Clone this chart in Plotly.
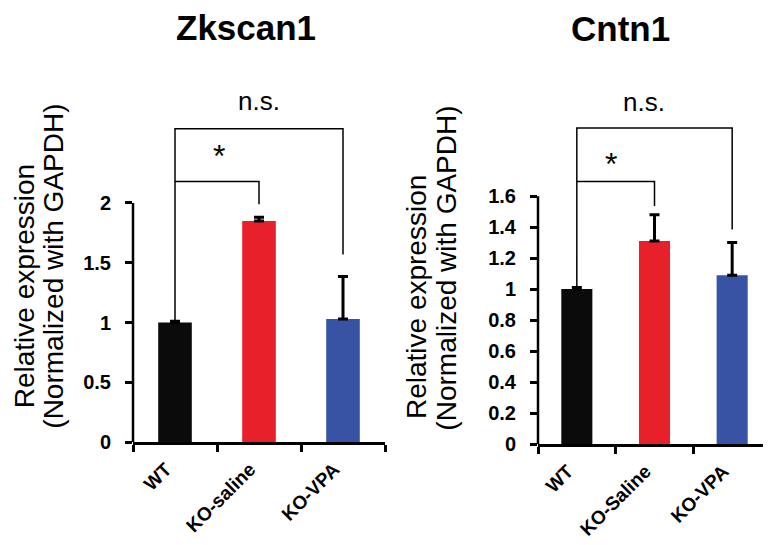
import plotly.graph_objects as go

categories_left = ["WT", "KO-saline", "KO-VPA"]
values_left = [1.0, 1.85, 1.03]
errors_left = [0.01, 0.03, 0.355]

categories_right = ["WT", "KO-Saline", "KO-VPA"]
values_right = [1.0, 1.31, 1.09]
errors_right = [0.01, 0.17, 0.21]

colors = ["#0b0b0b", "#e8202a", "#3953a4"]
ytick_left = [0, 0.5, 1, 1.5, 2]
ytick_right = [0, 0.2, 0.4, 0.6, 0.8, 1, 1.2, 1.4, 1.6]

# significance brackets (data coords)
brk_left = dict(outer=2.62, outer_drop=1.57, inner=2.18, inner_drop=1.99, star=(0.52, 2.39), ns=(1.0, 2.85))
brk_right = dict(outer=2.04, outer_drop=1.385, inner=1.695, inner_drop=1.537, star=(0.44, 1.81), ns=(0.86, 2.21))

FONT = "Liberation Sans, Arial, sans-serif"
W, H = 771, 545
TOP = 80  # pixel row where the (invisible) top of the plotting area sits

fig = go.Figure()

def add_panel(xa, ya, cats, vals, errs, brk):
    xs = list(range(len(cats)))
    fig.add_trace(go.Bar(
        x=xs, y=vals, width=0.4, marker=dict(color=colors, line=dict(width=0)),
        error_y=dict(type="data", array=errs, arrayminus=[0] * len(errs), symmetric=False,
                     color="black", thickness=3, width=5),
        xaxis=xa, yaxis=ya, showlegend=False, hoverinfo="skip"))
    seg = dict(mode="lines", line=dict(color="black", width=1.5), cliponaxis=False,
               showlegend=False, hoverinfo="skip", xaxis=xa, yaxis=ya)
    fig.add_trace(go.Scatter(x=[xs[0], xs[0], xs[2], xs[2]],
                             y=[vals[0], brk["outer"], brk["outer"], brk["outer_drop"]], **seg))
    fig.add_trace(go.Scatter(x=[xs[0], xs[1], xs[1]],
                             y=[brk["inner"], brk["inner"], brk["inner_drop"]], **seg))
    fig.add_annotation(x=brk["star"][0], y=brk["star"][1], xref=xa, yref=ya, text="*",
                       xanchor="center", yanchor="middle",
                       showarrow=False, font=dict(family=FONT, size=32, color="black"))
    fig.add_annotation(x=brk["ns"][0], y=brk["ns"][1], xref=xa, yref=ya, text="n.s.",
                       xanchor="center", yanchor="middle",
                       showarrow=False, font=dict(family=FONT, size=26, color="black"))

add_panel("x", "y", categories_left, values_left, errors_left, brk_left)
add_panel("x2", "y2", categories_right, values_right, errors_right, brk_right)

def xaxis_cfg(dom, labels, anchor):
    return dict(domain=dom, range=[-0.5, 2.5], tickvals=[0, 1, 2], ticktext=labels, anchor=anchor,
                tickangle=-45, ticks="", showline=True, linecolor="black", linewidth=2.5,
                ticklabelstandoff=6, ticklabelshift=-9,
                tickfont=dict(family=FONT, size=19, color="black", weight="bold"),
                minor=dict(ticks="outside", tick0=-0.5, dtick=1, ticklen=7, tickwidth=2.5,
                           tickcolor="black", showgrid=False),
                showgrid=False, zeroline=False, fixedrange=True)

def yaxis_cfg(px0, pxtop, vtop, tickv, anchor):
    # axis occupies from pixel row px0 (value 0) up to TOP; scale fixed by value vtop at row pxtop
    rmax = vtop * (px0 - TOP) / (px0 - pxtop)
    return dict(domain=[1 - px0 / H, 1 - TOP / H], range=[0, rmax], tickvals=tickv,
                ticktext=[f"{v:g}" for v in tickv], anchor=anchor,
                ticks="outside", ticklen=7, tickwidth=2.5, tickcolor="black",
                showline=False, ticklabelstandoff=10,
                tickfont=dict(family=FONT, size=20, color="black", weight="bold"),
                showgrid=False, zeroline=False, fixedrange=True)

fig.update_layout(
    width=W, height=H, margin=dict(l=0, r=0, t=0, b=0),
    paper_bgcolor="white", plot_bgcolor="white",
    xaxis=xaxis_cfg([125 / W, 377 / W], categories_left, "y"),
    yaxis=yaxis_cfg(443, 199, ytick_left[-1], ytick_left, "x"),
    xaxis2=xaxis_cfg([530 / W, 763 / W], categories_right, "y2"),
    yaxis2=yaxis_cfg(445, 192, ytick_right[-1], ytick_right, "x2"),
)

# visible y-axis lines, only up to the top tick
fig.add_shape(type="line", xref="x domain", yref="y", x0=0, x1=0, y0=0, y1=ytick_left[-1],
              line=dict(color="black", width=2.5))
fig.add_shape(type="line", xref="x2 domain", yref="y2", x0=0, x1=0, y0=0, y1=ytick_right[-1],
              line=dict(color="black", width=2.5))

# titles
fig.add_annotation(x=238 / W, y=1 - 20 / H, xref="paper", yref="paper", text="<b>Zkscan1</b>",
                   xanchor="center", yanchor="middle",
                   showarrow=False, font=dict(family=FONT, size=35, color="black"))
fig.add_annotation(x=612 / W, y=1 - 21 / H, xref="paper", yref="paper", text="<b>Cntn1</b>",
                   xanchor="center", yanchor="middle",
                   showarrow=False, font=dict(family=FONT, size=35, color="black"))

# y-axis titles
for (x1, y1, x2, y2) in [(16, 284, 46, 264), (408, 295, 439, 266)]:
    fig.add_annotation(x=x1 / W, y=1 - y1 / H, xref="paper", yref="paper", text="Relative expression",
                       textangle=-90, xanchor="center", yanchor="middle",
                       showarrow=False, font=dict(family=FONT, size=28, color="black"))
    fig.add_annotation(x=x2 / W, y=1 - y2 / H, xref="paper", yref="paper", text="(Normalized with GAPDH)",
                       textangle=-90, xanchor="center", yanchor="middle",
                       showarrow=False, font=dict(family=FONT, size=28, color="black"))

fig.write_html("out.html")
